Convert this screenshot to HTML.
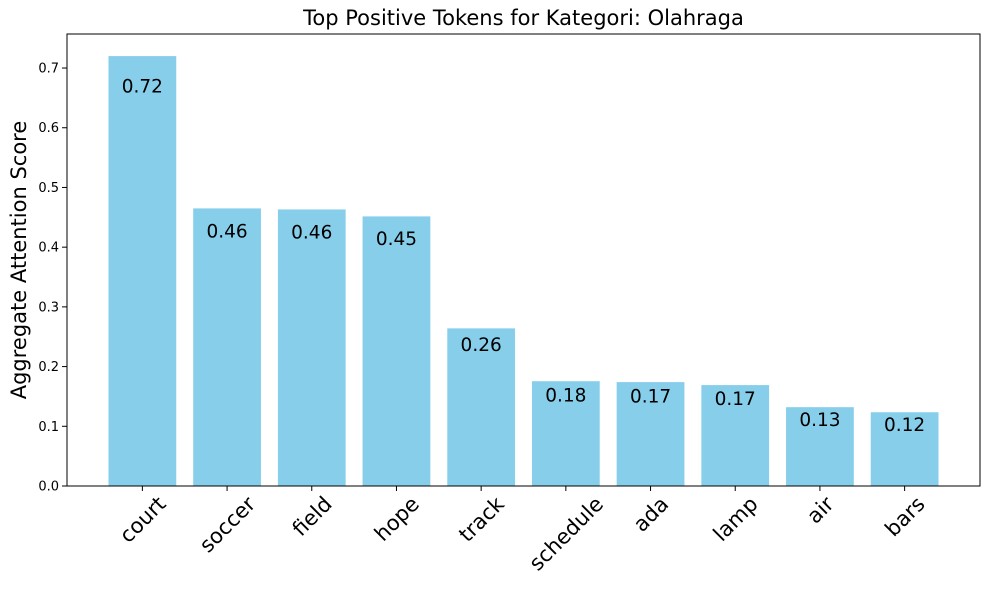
<!DOCTYPE html>
<html><head><meta charset="utf-8"><style>
body{margin:0;background:#fff;}
svg{display:block;font-family:"DejaVu Sans","Liberation Sans",sans-serif;}
</style></head><body>
<svg id="chart" width="989" height="590"></svg>
<script>
const categories=["court","soccer","field","hope","track","schedule","ada","lamp","air","bars"];
const values=[0.720,0.4649,0.4632,0.4515,0.2640,0.1755,0.1740,0.1690,0.1320,0.1235];
const valueLabels=["0.72","0.46","0.46","0.45","0.26","0.18","0.17","0.17","0.13","0.12"];
const yTicks=[0.0,0.1,0.2,0.3,0.4,0.5,0.6,0.7];
const yTickLabels=["0.0","0.1","0.2","0.3","0.4","0.5","0.6","0.7"];

const svg=document.getElementById('chart');
const NS='http://www.w3.org/2000/svg';
const L=67,R=980,T=34,B=486;
const yMax=0.757;
const xMin=-0.89,xMax=categories.length-1+0.89;
const x=i=>L+(i-xMin)/(xMax-xMin)*(R-L);
const y=v=>B-v/yMax*(B-T);
const bw=0.8*(R-L)/(xMax-xMin);
function mk(tag,attrs,parent){const e=document.createElementNS(NS,tag);for(const k in attrs)e.setAttribute(k,attrs[k]);(parent||svg).appendChild(e);return e;}

categories.forEach((c,i)=>{
  const r=mk('rect',{x:x(i)-bw/2,y:y(values[i]),width:bw,height:B-y(values[i]),fill:'#87ceeb'});
  
  
  const t=mk('text',{x:x(i),y:y(values[i]*0.95)+15,'text-anchor':'middle','font-size':'18.5',fill:'#000'});
  t.textContent=valueLabels[i];
  
  
  mk('line',{x1:x(i),x2:x(i),y1:B,y2:B+5,stroke:'#000','stroke-width':1});
  const xt=mk('text',{x:0,y:0,'text-anchor':'middle','font-size':'21',dy:'0.36em'});
  xt.textContent=c;
  
  
  const w=xt.getComputedTextLength();
  const h=17;
  const cy=B+8+(w+h)/(2*Math.SQRT2);
  xt.setAttribute('transform',`translate(${x(i)},${cy}) rotate(-45)`);
});
yTicks.forEach((v,i)=>{
  mk('line',{x1:L-5,x2:L,y1:y(v),y2:y(v),stroke:'#000','stroke-width':1});
  const t=mk('text',{x:L-8,y:y(v)+4.5,'text-anchor':'end','font-size':'13'});
  t.textContent=yTickLabels[i];
  
  
});
const frame=mk('rect',{x:L,y:T,width:R-L,height:B-T,fill:'none',stroke:'#000','stroke-width':1});


const title=mk('text',{x:(L+R)/2,y:25,'text-anchor':'middle','font-size':'21'});
title.textContent='Top Positive Tokens for Kategori: Olahraga';


const yt=mk('text',{x:0,y:0,'text-anchor':'middle','font-size':'21',transform:`translate(26,${(T+B)/2}) rotate(-90)`});
yt.textContent='Aggregate Attention Score';


</script>
</body></html>
